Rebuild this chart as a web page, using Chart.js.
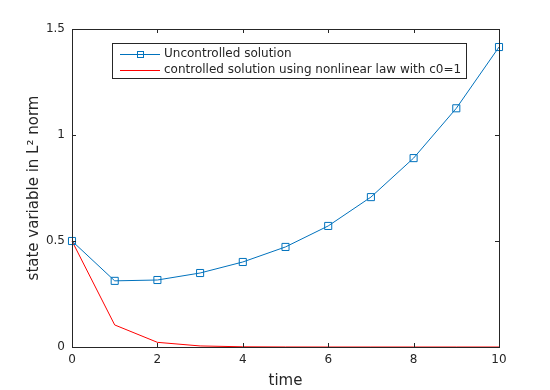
<!DOCTYPE html>
<html>
<head>
<meta charset="utf-8">
<script src="https://cdn.jsdelivr.net/npm/chart.js@4"></script>
<style>
  html, body { margin: 0; padding: 0; background: #fff; }
  #wrap { width: 550px; height: 390px; position: relative; }
</style>
</head>
<body>
<div id="wrap"><canvas id="stateChart"></canvas></div>
<script>
const times = [0, 1, 2, 3, 4, 5, 6, 7, 8, 9, 10];
const uncontrolled = [0.5, 0.312, 0.316, 0.349, 0.401, 0.472, 0.571, 0.707, 0.891, 1.126, 1.415];
const controlled = [0.5, 0.104, 0.022, 0.005, 0.001, 0.0002, 0, 0, 0, 0, 0];
const xTicks = [0, 2, 4, 6, 8, 10];
const yTicks = [0, 0.5, 1, 1.5];
const legendLabels = ['Uncontrolled solution', 'controlled solution using nonlinear law with c0=1'];

const blue = '#0072BD';
const red = '#FF0000';
const axisColor = '#262626';
const fontFamily = 'DejaVu Sans';

// box around the axes with inward ticks on all four sides, like matlab
const boxPlugin = {
  id: 'matlabBox',
  afterDraw(chart) {
    const { ctx, chartArea: a, scales } = chart;
    ctx.save();
    ctx.strokeStyle = axisColor;
    ctx.lineWidth = 1;
    ctx.strokeRect(a.left + 0.5, a.top + 0.5, a.right - a.left, a.bottom - a.top);
    ctx.beginPath();
    xTicks.forEach(v => {
      const x = Math.round(scales.x.getPixelForValue(v)) + 0.5;
      ctx.moveTo(x, a.bottom); ctx.lineTo(x, a.bottom - 4);
      ctx.moveTo(x, a.top); ctx.lineTo(x, a.top + 4);
    });
    yTicks.forEach(v => {
      const y = Math.round(scales.y.getPixelForValue(v)) + 0.5;
      ctx.moveTo(a.left, y); ctx.lineTo(a.left + 4, y);
      ctx.moveTo(a.right, y); ctx.lineTo(a.right - 4, y);
    });
    ctx.stroke();

    // legend
    const lx = 112.5, ly = 43.5, lw = 354, lh = 35;
    ctx.fillStyle = '#fff';
    ctx.fillRect(lx, ly, lw, lh);
    ctx.strokeStyle = axisColor;
    ctx.strokeRect(lx, ly, lw, lh);
    const rows = [54, 70];
    ctx.lineWidth = 1;
    ctx.strokeStyle = blue;
    ctx.beginPath(); ctx.moveTo(120, rows[0] + 0.5); ctx.lineTo(160, rows[0] + 0.5); ctx.stroke();
    ctx.strokeRect(137.5, rows[0] - 2.5, 6, 6);
    ctx.beginPath();
    ctx.strokeStyle = red;
    ctx.moveTo(120, rows[1] + 0.5); ctx.lineTo(160, rows[1] + 0.5);
    ctx.stroke();
    ctx.fillStyle = axisColor;
    ctx.font = '12px ' + fontFamily;
    ctx.textBaseline = 'middle';
    ctx.textAlign = 'left';
    legendLabels.forEach((t, i) => ctx.fillText(t, 164, rows[i]));
    ctx.restore();
  }
};

const ctx = document.getElementById('stateChart').getContext('2d');

new Chart(ctx, {
  type: 'line',
  data: {
    datasets: [{
      label: legendLabels[0],
      data: times.map((t, i) => ({ x: t, y: uncontrolled[i] })),
      borderColor: blue,
      borderWidth: 1,
      pointStyle: 'rect',
      pointRadius: 5,
      pointBorderWidth: 1,
      pointBorderColor: blue,
      pointBackgroundColor: 'rgba(0,0,0,0)',
      tension: 0,
      clip: false
    }, {
      label: legendLabels[1],
      data: times.map((t, i) => ({ x: t, y: controlled[i] })),
      borderColor: red,
      borderWidth: 1,
      pointRadius: 0,
      tension: 0,
      clip: false
    }]
  },
  options: {
    responsive: true,
    maintainAspectRatio: false,
    animation: false,
    layout: { padding: { top: 29, right: 51, left: 0, bottom: 0 } },
    plugins: {
      legend: { display: false },
      tooltip: { enabled: false }
    },
    scales: {
      x: {
        type: 'linear',
        min: 0,
        max: 10,
        afterBuildTicks: s => { s.ticks = xTicks.map(v => ({ value: v })); },
        afterFit: s => { s.height = 43; },
        grid: { display: false, drawTicks: false },
        border: { display: false },
        ticks: { color: axisColor, font: { family: fontFamily, size: 12 }, padding: 6, maxRotation: 0 },
        title: { display: true, text: 'time', color: axisColor, font: { family: fontFamily, size: 15 }, padding: { top: 0, bottom: 0 } }
      },
      y: {
        min: 0,
        max: 1.5,
        afterBuildTicks: s => { s.ticks = yTicks.map(v => ({ value: v })); },
        afterFit: s => { s.width = 72; },
        grid: { display: false, drawTicks: false },
        border: { display: false },
        ticks: {
          color: axisColor,
          font: { family: fontFamily, size: 12 },
          padding: 7,
          callback: v => String(v)
        },
        title: { display: true, text: 'state variable in L² norm', color: axisColor, font: { family: fontFamily, size: 15 }, padding: { top: 25, bottom: 0 } }
      }
    }
  },
  plugins: [boxPlugin]
});
</script>
</body>
</html>
